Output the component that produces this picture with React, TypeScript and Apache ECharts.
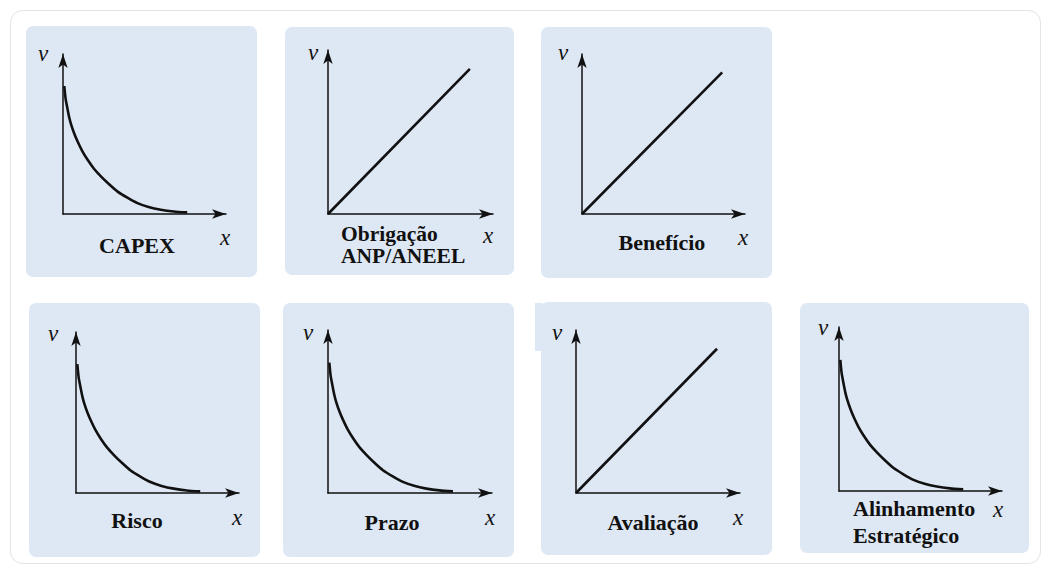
import React, { useEffect, useRef } from "react";
import * as echarts from "echarts";

// ---- data ----
const panelTitles: string[][] = [
  ["CAPEX"],
  ["Obrigação", "ANP/ANEEL"],
  ["Benefício"],
  ["Risco"],
  ["Prazo"],
  ["Avaliação"],
  ["Alinhamento", "Estratégico"],
];
const curveKinds: string[] = ["decay", "linear", "linear", "decay", "decay", "linear", "decay"];
const decayX = [0.8, 1.6, 2.7, 3.9, 5.1, 7.0, 9.1, 12.0, 15.2, 19.0, 23.4, 28.3, 33.5, 39.5, 45.7, 52.5, 60, 68, 76.2];
const decayV = [80, 72, 66, 60, 55.5, 50, 45, 39, 33.7, 28.3, 23.4, 18.6, 14, 10.2, 6.8, 4.4, 2.7, 1.6, 1];
const linearX = [0, 86];
const linearV = [0, 88.5];
const axisNameY = "v";
const axisNameX = "x";

// ---- layout (pixels) ----
type Layout = {
  box: number[];
  origin: number[];
  tip: number[];
  v: number[];
  x: number[];
  align: "center" | "left";
  tx: number;
  ty: number;
  lh: number;
  fs: number;
};
const layout: Layout[] = [
  { box: [26, 26, 231, 251], origin: [63, 214], tip: [233, 47], v: [43, 53], x: [225, 237], align: "center", tx: 137, ty: 245, lh: 22, fs: 22 },
  { box: [285, 27, 229, 248], origin: [328, 214], tip: [500, 43], v: [313, 52], x: [488, 235], align: "left", tx: 341, ty: 245, lh: 22.5, fs: 21.5 },
  { box: [541, 27, 231, 251], origin: [582, 214], tip: [752, 47], v: [563, 52], x: [743, 237], align: "center", tx: 662, ty: 242, lh: 22, fs: 22 },
  { box: [29, 303, 231, 254], origin: [76, 493], tip: [246, 325], v: [53, 333], x: [237, 517], align: "center", tx: 137, ty: 520, lh: 22, fs: 22 },
  { box: [283, 303, 231, 254], origin: [328, 493], tip: [499, 323], v: [308, 332], x: [490, 517], align: "center", tx: 392, ty: 522, lh: 22, fs: 22 },
  { box: [541, 302, 231, 253], origin: [576, 493], tip: [747, 323], v: [557, 332], x: [738, 517], align: "center", tx: 653, ty: 522, lh: 22, fs: 22 },
  { box: [800, 303, 229, 250], origin: [839, 491], tip: [1009, 320], v: [823, 327], x: [998, 509], align: "left", tx: 853, ty: 521.5, lh: 27, fs: 22 },
];

const ARROW = 14;
const INK = "#111111";
const PANEL_BG = "#dee8f4";
const SERIF = "Liberation Serif";

function textEl(text: string, x: number, y: number, align: string, italic: boolean, size: number, lh?: number) {
  return {
    type: "text",
    z: 50,
    style: {
      text,
      x,
      y,
      textAlign: align,
      textVerticalAlign: "middle",
      align,
      verticalAlign: "middle",
      fontFamily: SERIF,
      fontSize: size,
      fontStyle: italic ? "italic" : "normal",
      fontWeight: italic ? "normal" : "bold",
      lineHeight: lh,
      fill: INK,
    },
  };
}

function buildOption() {
  const grid: any[] = [];
  const xAxis: any[] = [];
  const yAxis: any[] = [];
  const series: any[] = [];
  const graphic: any[] = [];

  graphic.push({
    type: "rect",
    z: -20,
    shape: { x: 10.5, y: 10.5, width: 1030, height: 553, r: 12 },
    style: { fill: "#ffffff", stroke: "#e3e3e3", lineWidth: 1 },
  });

  const axisCommon = (i: number) => ({
    type: "value",
    gridIndex: i,
    min: 0,
    max: 100,
    axisLine: {
      show: true,
      onZero: false,
      symbol: ["none", "arrow"],
      symbolSize: [7, ARROW],
      lineStyle: { color: INK, width: 1.5 },
    },
    axisTick: { show: false },
    axisLabel: { show: false },
    splitLine: { show: false },
  });

  layout.forEach((L, i) => {
    const left = L.origin[0];
    const top = L.tip[1] + ARROW / 2;
    const width = L.tip[0] - ARROW / 2 - L.origin[0];
    const height = L.origin[1] - top;
    grid.push({ left, top, width, height, containLabel: false });
    xAxis.push(axisCommon(i));
    yAxis.push(axisCommon(i));

    const isDecay = curveKinds[i] === "decay";
    const xs = isDecay ? decayX : linearX;
    const vs = isDecay ? decayV : linearV;
    series.push({
      type: "line",
      xAxisIndex: i,
      yAxisIndex: i,
      data: xs.map((xv, k) => [xv, vs[k]]),
      showSymbol: false,
      symbol: "none",
      smooth: isDecay ? 0.2 : false,
      lineStyle: { color: INK, width: 2.6 },
      silent: true,
    });

    graphic.push({
      type: "rect",
      z: -10,
      shape: { x: L.box[0], y: L.box[1], width: L.box[2], height: L.box[3], r: 7 },
      style: { fill: PANEL_BG },
    });
    graphic.push(textEl(axisNameY, L.v[0], L.v[1], "center", true, 23));
    graphic.push(textEl(axisNameX, L.x[0], L.x[1], "center", true, 23));
    graphic.push(textEl(panelTitles[i].join("\n"), L.tx, L.ty, L.align, false, L.fs, L.lh));
  });

  // small tab on the left of the "Avaliação" panel
  graphic.push({
    type: "rect",
    z: -10,
    shape: { x: 535, y: 303, width: 8, height: 48 },
    style: { fill: PANEL_BG },
  });

  return {
    animation: false,
    backgroundColor: "#ffffff",
    grid,
    xAxis,
    yAxis,
    series,
    graphic,
  };
}

export default function App() {
  const ref = useRef<HTMLDivElement>(null);
  useEffect(() => {
    if (!ref.current) return;
    const chart = echarts.init(ref.current, undefined, { renderer: "svg" });
    chart.setOption(buildOption() as any);
    return () => chart.dispose();
  }, []);
  return (
    <div
      ref={ref}
      style={{ position: "fixed", left: 0, top: 0, width: 1042, height: 568, background: "#ffffff" }}
    />
  );
}
